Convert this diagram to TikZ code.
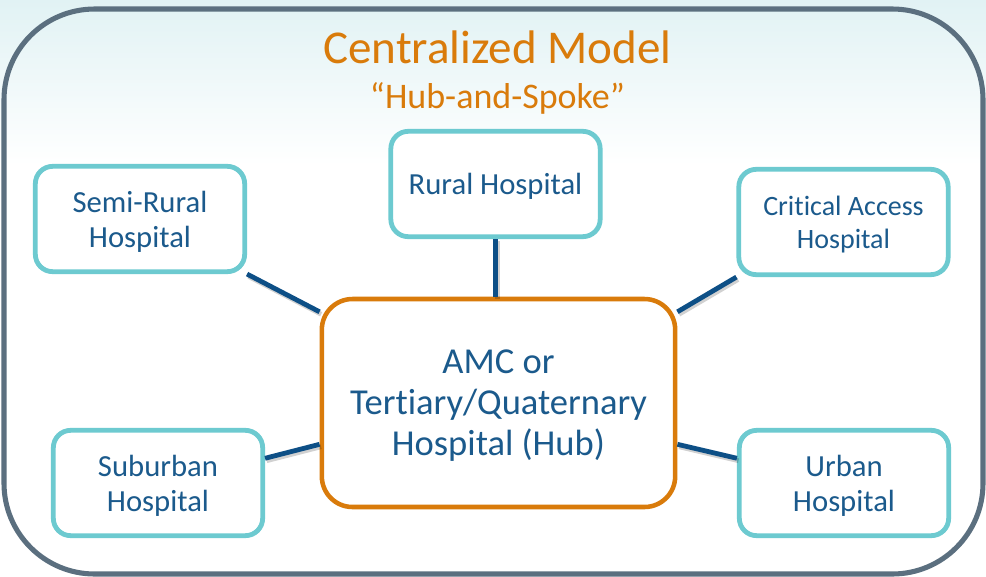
\documentclass[tikz,border=0pt]{standalone}
\usepackage{fontspec}
\setmainfont{Carlito}[Ligatures={NoCommon}]
\definecolor{frameGray}{HTML}{5B6F7F}
\definecolor{spokeTeal}{HTML}{6DCAD0}
\definecolor{textBlue}{HTML}{1B5A8C}
\definecolor{linkBlue}{HTML}{0D4F86}
\definecolor{hubOrange}{HTML}{D97B0B}
\definecolor{bgTeal}{HTML}{E1F2F4}
\tikzset{
  spoke/.style={draw=spokeTeal, fill=white, line width=3.6pt, rounded corners=13pt,
    minimum width=157pt, minimum height=79pt, align=center, text=textBlue,
    text depth=0pt, font=\fontsize{23pt}{26.2pt}\selectfont},
  hubbox/.style={draw=hubOrange, fill=white, line width=3.4pt, rounded corners=23pt,
    minimum width=265pt, minimum height=156pt, align=center, text=textBlue,
    text depth=0pt, font=\fontsize{27.4pt}{30.8pt}\selectfont},
  link/.style={draw=linkBlue, line width=3.6pt,
    preaction={draw=black, opacity=0.18, line width=3.6pt,
      transform canvas={shift={(1.2pt,-1.8pt)}}}},
}
\begin{document}
\begin{tikzpicture}[x=0.75pt, y=-0.75pt]
  \def\W{986};
  \def\H{576};
  \def\Xmid{497.5};

  % background
  \useasboundingbox (0,0) rectangle (\W,\H);
  \fill[white] (0,0) rectangle (\W,\H);
  \shade[top color=bgTeal, bottom color=white] (0,0) rectangle (\W,165);
  \draw[frameGray, line width=3.8pt, rounded corners=68pt] (4,9) rectangle (983,574);

  % title
  \node[anchor=base, text=hubOrange, font=\fontsize{35.3pt}{40pt}\selectfont]
    (title) at (\Xmid,63) {Centralized Model};
  \node[anchor=base, text=hubOrange, font=\fontsize{27pt}{30pt}\selectfont]
    (subtitle) at (\Xmid,108) {“Hub-and-Spoke”};

  % boxes
  \node[hubbox] (hub) at (498.5,403) {AMC or\\Tertiary/Quaternary\\Hospital (Hub)};
  \node[spoke] (semirural) at (140,219) {Semi-Rural\\Hospital};
  \node[spoke] (rural) at (495.5,184) {Rural Hospital};
  \node[spoke, font=\fontsize{21pt}{24.8pt}\selectfont]
    (critical) at (843.5,222) {Critical Access\\Hospital};
  \node[spoke] (suburban) at (158,483) {Suburban\\Hospital};
  \node[spoke] (urban) at (844,483) {Urban\\Hospital};

  % links
  \draw[link] (semirural.south east) -- (hub.153);
  \draw[link] (rural.south) -- (rural.south |- hub.north);
  \draw[link] (critical.south west) -- (hub.27);
  \draw[link] (suburban.13) -- (hub.193);
  \draw[link] (urban.167) -- (hub.347);

\end{tikzpicture}
\end{document}
